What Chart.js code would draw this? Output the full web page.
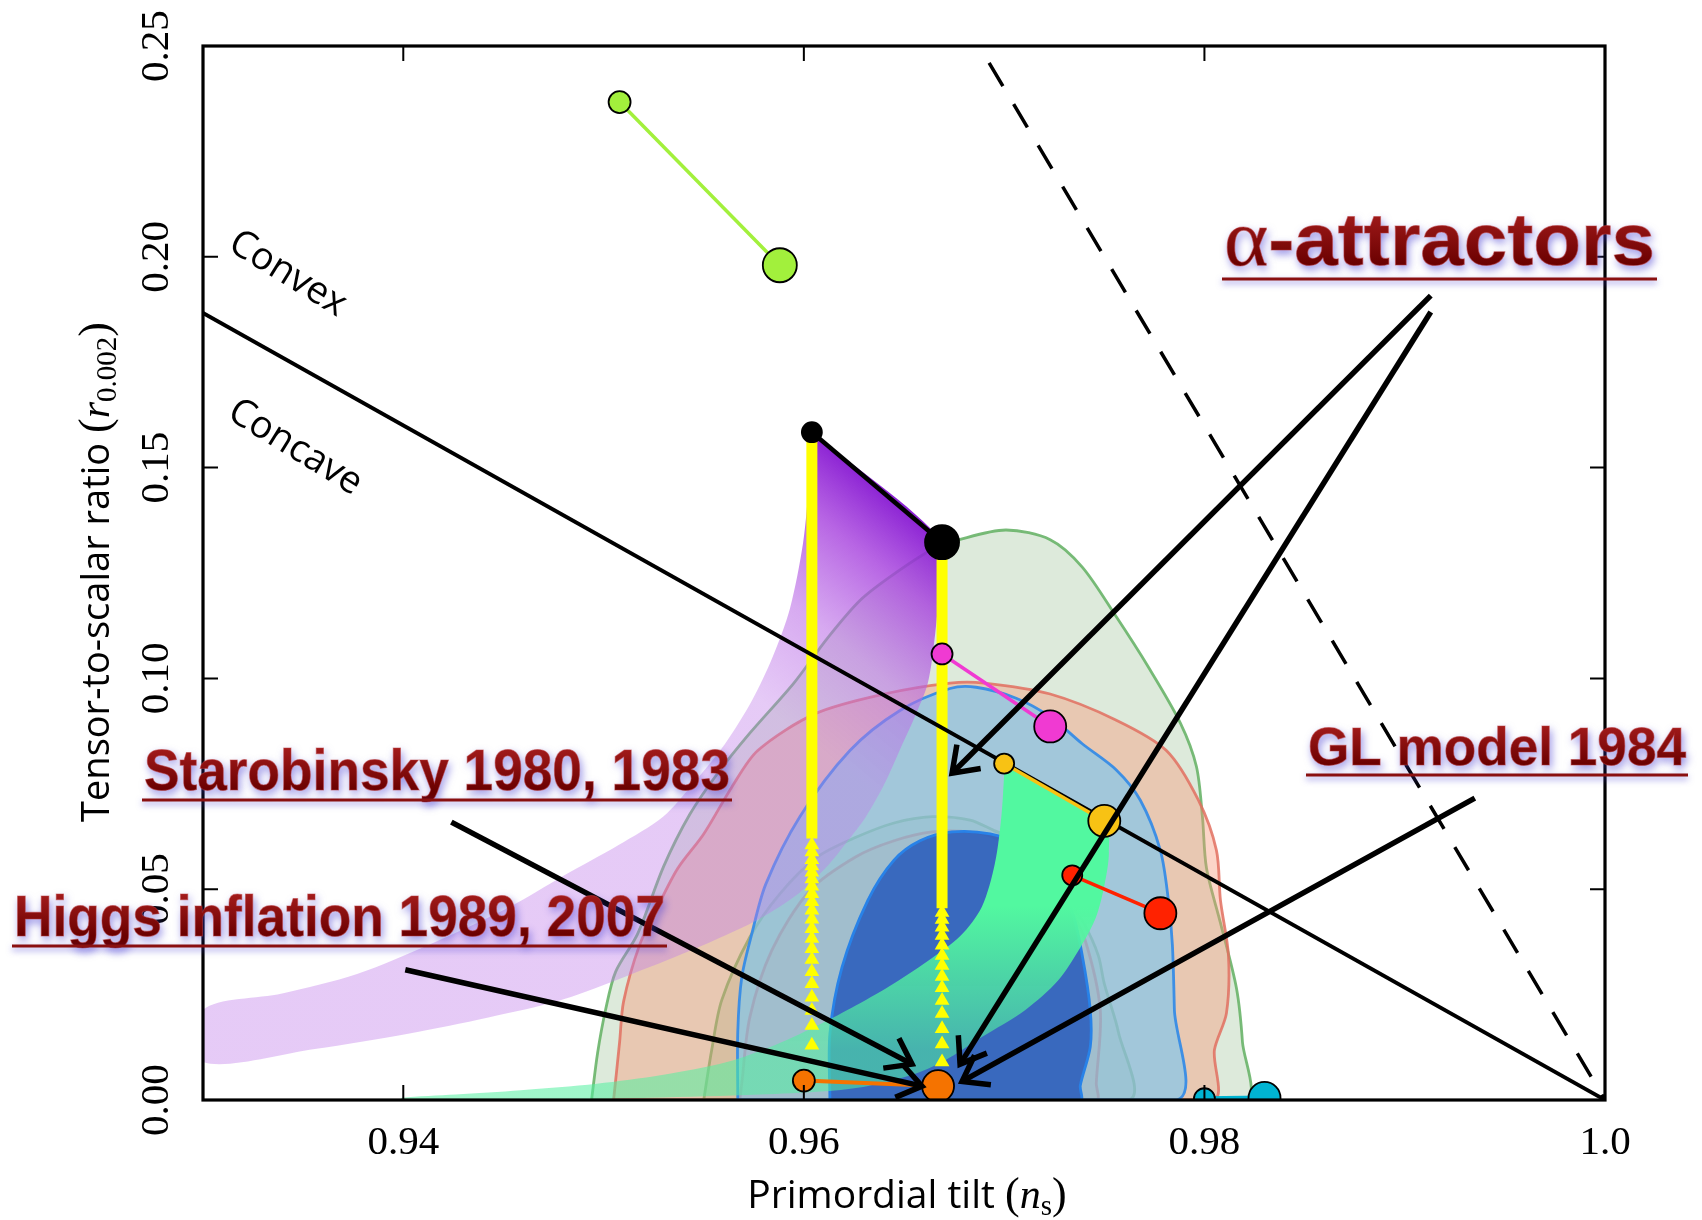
<!DOCTYPE html>
<html>
<head>
<meta charset="utf-8">
<script src="https://cdn.jsdelivr.net/npm/chart.js@4.4.1/dist/chart.umd.min.js"></script>
<style>
  html, body { margin: 0; padding: 0; background: #ffffff; }
  #wrap { width: 1702px; height: 1220px; position: relative; }
</style>
</head>
<body>
<div id="wrap"><canvas id="c" width="1702" height="1220"></canvas></div>
<script>
// ---- axes ----
const xTickValues = [0.94, 0.96, 0.98, 1.0];
const xTickLabels = ['0.94', '0.96', '0.98', '1.0'];
const yTickValues = [0, 0.05, 0.10, 0.15, 0.20, 0.25];
const yTickLabels = ['0.00', '0.05', '0.10', '0.15', '0.20', '0.25'];

// ---- constraint contours (ns, r) ----
const greenOuter = [[0.9494,0],[0.9497,0.0111],[0.9501,0.0214],[0.9506,0.0304],[0.9517,0.0394],[0.9530,0.0554],[0.9543,0.0677],[0.9557,0.0775],[0.9573,0.0870],[0.9595,0.0989],[0.9612,0.1097],[0.9628,0.1185],[0.9643,0.1241],[0.9663,0.1303],[0.9679,0.1331],[0.9701,0.1352],[0.9723,0.1329],[0.9739,0.1264],[0.9756,0.1146],[0.9772,0.1027],[0.9788,0.0894],[0.9796,0.0791],[0.9799,0.0672],[0.9801,0.0551],[0.9808,0.0420],[0.9816,0.0265],[0.9819,0.0137],[0.9820,0]];
const greenInner = [[0.9550,0],[0.9554,0.0119],[0.9559,0.0237],[0.9573,0.0386],[0.9588,0.0489],[0.9607,0.0577],[0.9626,0.0623],[0.9645,0.0657],[0.9664,0.0672],[0.9683,0.0664],[0.9695,0.0639],[0.9708,0.0613],[0.9721,0.0549],[0.9732,0.0471],[0.9740,0.0417],[0.9747,0.0343],[0.9750,0.0276],[0.9757,0.0162],[0.9762,0]];
const redOuter = [[0.9505,0],[0.9508,0.0137],[0.9510,0.0234],[0.9518,0.0368],[0.9527,0.0458],[0.9537,0.0549],[0.9550,0.0631],[0.9564,0.0742],[0.9577,0.0829],[0.9606,0.0917],[0.9640,0.0963],[0.9673,0.0989],[0.9690,0.0989],[0.9723,0.0963],[0.9756,0.0901],[0.9781,0.0829],[0.9797,0.0711],[0.9806,0.0592],[0.9808,0.0474],[0.9812,0.0343],[0.9811,0.0206],[0.9805,0.0119],[0.9804,0]];
const redInner = [[0.9568,0],[0.9569,0.0039],[0.9573,0.0196],[0.9584,0.0355],[0.9603,0.0497],[0.9626,0.0577],[0.9645,0.0615],[0.9664,0.0636],[0.9683,0.0636],[0.9695,0.0623],[0.9713,0.0574],[0.9721,0.0528],[0.9732,0.0458],[0.9740,0.0386],[0.9748,0.0214],[0.9746,0.0039],[0.9746,0]];
const blueOuter = [[0.9567,0],[0.9567,0.0162],[0.9569,0.0291],[0.9574,0.0394],[0.9581,0.0512],[0.9598,0.0672],[0.9623,0.0829],[0.9648,0.0924],[0.9673,0.0976],[0.9686,0.0979],[0.9706,0.0953],[0.9723,0.0909],[0.9739,0.0845],[0.9756,0.0783],[0.9768,0.0711],[0.9778,0.0592],[0.9782,0.0474],[0.9784,0.0368],[0.9785,0.0214],[0.9786,0]];
const blueInner = [[0.9613,0],[0.9613,0.0157],[0.9619,0.0314],[0.9632,0.0474],[0.9645,0.0569],[0.9658,0.0615],[0.9674,0.0636],[0.9693,0.0631],[0.9711,0.0600],[0.9724,0.0536],[0.9734,0.0446],[0.9739,0.0343],[0.9743,0.0214],[0.9743,0.0126],[0.9738,0.0034],[0.9738,0]];

// ---- model bands ----
const naturalBand = [[0.96039,0.15836],[0.96694,0.13236],[0.96678,0.12180],[0.96656,0.11073],[0.96619,0.09888],[0.96554,0.09090],[0.96478,0.08292],[0.96402,0.07493],[0.96310,0.06721],[0.96212,0.06103],[0.96115,0.05536],[0.95979,0.04918],[0.95779,0.04300],[0.95551,0.03785],[0.95237,0.03167],[0.94788,0.02369],[0.94425,0.01957],[0.94024,0.01571],[0.93558,0.01210],[0.93000,0.00901],[0.93000,0.02137],[0.93395,0.02524],[0.93769,0.02987],[0.94154,0.03734],[0.94533,0.04584],[0.94804,0.05330],[0.95075,0.06051],[0.95297,0.06721],[0.95454,0.07545],[0.95606,0.08446],[0.95741,0.09476],[0.95844,0.10506],[0.95931,0.11665],[0.95996,0.13210],[0.96023,0.14497]];
const mintBand = [[0.97003,0.07983],[0.96987,0.06772],[0.96954,0.05614],[0.96889,0.04584],[0.96781,0.03888],[0.96619,0.03296],[0.96429,0.02704],[0.96239,0.02189],[0.96050,0.01725],[0.95860,0.01313],[0.95616,0.00901],[0.95291,0.00592],[0.94966,0.00386],[0.94587,0.00232],[0.94262,0.00129],[0.93991,0.00052],[0.93991,0],[0.94479,0],[0.95237,0.00052],[0.95779,0.00129],[0.96104,0.00206],[0.96321,0.00335],[0.96537,0.00592],[0.96700,0.00927],[0.96889,0.01494],[0.97106,0.02137],[0.97269,0.02833],[0.97382,0.03631],[0.97458,0.04326],[0.97501,0.05099],[0.97523,0.05871],[0.97501,0.06618]];

// ---- model predictions, [N = 50, N = 60] ----
const phiCubed   = [[0.9508,0.2367],[0.9588,0.1980]];
const phiSquared = [[0.9604,0.1584],[0.9669,0.1323]];
const phiFourThirds = [[0.9669,0.1058],[0.9723,0.0886]];
const phiLinear  = [[0.9700,0.0798],[0.9750,0.0662]];
const phiTwoThirds = [[0.9734,0.0533],[0.9778,0.0443]];
const lowScale   = [[0.9800,0.0003],[0.9830,0.0005]];
const starobinsky = [[0.9600,0.0046],[0.9667,0.0033]];

// yellow tracks below the phi^2 points (solid part, then individual markers)
const trackN50Solid = [0.1584, 0.0620];
const trackN50Marks = [0.0605,0.0588,0.0570,0.0555,0.0540,0.0524,0.0507,0.0489,0.0470,0.0450,0.0429,0.0406,0.0383,0.0359,0.0333,0.0304,0.0276,0.0244,0.0212,0.0177,0.0130];
const trackN60Solid = [0.1323, 0.0455];
const trackN60Marks = [0.0445,0.0428,0.0410,0.0390,0.0367,0.0343,0.0319,0.0293,0.0266,0.0236,0.0205,0.0169,0.0133,0.0090];

// ---- reference lines ----
const convexBoundary = [[0.93,0.18667],[1.0,0]];
const dashedBoundary = [[0.96925,0.246],[1.0,0]];

// ---- annotation arrows (tail, head) ----
const arrowAlphaA = [[0.9913,0.1908],[0.9674,0.0775]];
const arrowAlphaB = [[0.9913,0.1869],[0.9678,0.0085]];
const arrowStaro  = [[0.9424,0.0659],[0.9654,0.0085]];
const arrowHiggs  = [[0.9401,0.0309],[0.9659,0.0033]];
const arrowGL     = [[0.9935,0.0716],[0.9679,0.0044]];

const convexLabelAt = [0.93423, 0.19596];
const concaveLabelAt = [0.93460, 0.15476];

// ---------------------------------------------------------------
const P = a => a.map(([x, y]) => ({x, y}));
const ring = a => P(a.concat([a[0]]));

function region(data, bg, border, order, width) {
  return { data: ring(data), fill: 'shape', backgroundColor: bg, borderColor: border,
           borderWidth: width === undefined ? 2.8 : width, pointRadius: 0, tension: 0.3, order, clip: 0 };
}

function purpleFill(c) {
  const ch = c.chart;
  if (!ch.chartArea) return 'rgba(190,120,232,0.4)';
  const sx = ch.scales.x, sy = ch.scales.y;
  const g = ch.ctx.createLinearGradient(sx.getPixelForValue(0.9636), sy.getPixelForValue(0.1455),
                                        sx.getPixelForValue(0.9560), sy.getPixelForValue(0.1020));
  g.addColorStop(0, 'rgba(135,25,210,0.95)');
  g.addColorStop(0.25, 'rgba(168,68,222,0.82)');
  g.addColorStop(0.6, 'rgba(186,108,230,0.58)');
  g.addColorStop(1, 'rgba(192,124,234,0.4)');
  return g;
}

function mintFill(c) {
  const ch = c.chart;
  if (!ch.chartArea) return 'rgba(80,246,160,0.8)';
  const sy = ch.scales.y;
  const g = ch.ctx.createLinearGradient(0, sy.getPixelForValue(0.046), 0, sy.getPixelForValue(0.012));
  g.addColorStop(0, 'rgba(82,248,160,1)');
  g.addColorStop(1, 'rgba(82,240,160,0.55)');
  return g;
}

function model(data, color, order, lineWidth, radii) {
  return { data: P(data), borderColor: color, borderWidth: lineWidth || 3.5,
           pointRadius: radii || [10.5, 17], pointBackgroundColor: color, pointBorderColor: '#000',
           pointBorderWidth: 1.8, fill: false, order, clip: 0 };
}

function arrow(data) {
  return { data: P(data), borderColor: '#000', borderWidth: 5.5, pointRadius: 0, fill: false,
           order: 2, clip: false, borderCapStyle: 'butt', isArrow: true };
}

const nsN50 = phiSquared[0][0], nsN60 = phiSquared[1][0];

const datasets = [
  region(greenOuter, 'rgba(120,172,112,0.25)', 'rgba(105,180,105,0.9)', 90),
  region(greenInner, 'rgba(120,172,112,0.25)', 'rgba(105,180,105,0.9)', 89),
  region(redOuter, 'rgba(248,150,118,0.40)', 'rgba(226,112,96,0.85)', 88),
  region(redInner, 'rgba(248,150,118,0.40)', 'rgba(226,112,96,0.85)', 87),
  region(blueOuter, 'rgba(120,198,242,0.62)', 'rgba(55,140,230,0.95)', 86),
  region(blueInner, 'rgba(45,95,188,0.9)', 'rgba(40,130,232,1)', 85),
  region(naturalBand, purpleFill, 'rgba(0,0,0,0)', 80, 0),
  region(mintBand, mintFill, 'rgba(0,0,0,0)', 79, 0),
  { data: P(dashedBoundary), borderColor: '#000', borderWidth: 3.5, borderDash: [27, 21],
    pointRadius: 0, fill: false, order: 70, clip: 0 },
  { data: P([[nsN50, trackN50Solid[0]], [nsN50, trackN50Solid[1]]]), borderColor: '#ffff00', borderWidth: 11,
    pointRadius: 0, fill: false, order: 60, clip: 0, borderCapStyle: 'butt' },
  { data: trackN50Marks.map(r => ({x: nsN50, y: r})), showLine: false, pointStyle: 'triangle',
    pointRadius: 8.5, pointBackgroundColor: '#ffff00', pointBorderColor: '#ffff00', pointBorderWidth: 0, order: 60, clip: 0 },
  { data: P([[nsN60, trackN60Solid[0]], [nsN60, trackN60Solid[1]]]), borderColor: '#ffff00', borderWidth: 11,
    pointRadius: 0, fill: false, order: 60, clip: 0, borderCapStyle: 'butt' },
  { data: trackN60Marks.map(r => ({x: nsN60, y: r})), showLine: false, pointStyle: 'triangle',
    pointRadius: 8.5, pointBackgroundColor: '#ffff00', pointBorderColor: '#ffff00', pointBorderWidth: 0, order: 60, clip: 0 },
  { data: P(convexBoundary), borderColor: '#000', borderWidth: 3.8, pointRadius: 0, fill: false, order: 55, clip: 0 },
  model(phiCubed, '#a2f03c', 30, 3.5, [11, 17]),
  model(phiSquared, '#000000', 30, 4.5, [10, 17]),
  model(phiFourThirds, '#f03ad2', 30, 3.5, [10.5, 16]),
  model(phiLinear, '#f8c214', 30, 3.5, [10, 16]),
  model(phiTwoThirds, '#ff2200', 30, 3.5, [10, 16]),
  model(lowScale, '#00b4d2', 30, 5, [10.5, 16]),
  model(starobinsky, '#f57300', 30, 4, [11, 16]),
  arrow(arrowAlphaA),
  arrow(arrowAlphaB),
  arrow(arrowStaro),
  arrow(arrowHiggs),
  arrow(arrowGL)
];

// ---------------------------------------------------------------
const SERIF = '"Liberation Serif", "DejaVu Serif", serif';
const SANS = '"Open Sans", "DejaVu Sans", sans-serif';
const BOLD = '"Liberation Sans", Arial, sans-serif';

function drawRuns(ctx, runs, cx, baseline) {
  let w = 0;
  runs.forEach(r => { ctx.font = r.font; r.w = ctx.measureText(r.t).width; w += r.w; });
  let x = cx - w / 2;
  runs.forEach(r => { ctx.font = r.font; ctx.fillText(r.t, x, baseline + (r.dy || 0)); x += r.w; });
}

// Inward ticks, frame, tick labels and axis titles
const framePlugin = {
  id: 'frame',
  afterDatasetsDraw(chart) {
    const {ctx, chartArea: a, scales: {x, y}} = chart;
    ctx.save();
    ctx.strokeStyle = '#000';
    ctx.lineWidth = 2;
    ctx.beginPath();
    xTickValues.forEach(v => {
      const px = x.getPixelForValue(v);
      ctx.moveTo(px, a.bottom); ctx.lineTo(px, a.bottom - 15);
      ctx.moveTo(px, a.top); ctx.lineTo(px, a.top + 15);
    });
    yTickValues.forEach(v => {
      const py = y.getPixelForValue(v);
      ctx.moveTo(a.left, py); ctx.lineTo(a.left + 15, py);
      ctx.moveTo(a.right, py); ctx.lineTo(a.right - 15, py);
    });
    ctx.stroke();
    ctx.lineWidth = 3.2;
    ctx.strokeRect(a.left, a.top, a.right - a.left, a.bottom - a.top);

    // arrowheads
    chart.data.datasets.forEach((ds, i) => {
      if (!ds.isArrow) return;
      const pts = chart.getDatasetMeta(i).data;
      const p0 = pts[0], p1 = pts[pts.length - 1];
      const ang = Math.atan2(p1.y - p0.y, p1.x - p0.x);
      const L = 29, spread = 0.62;
      ctx.lineWidth = 5.5;
      ctx.lineJoin = 'miter';
      ctx.lineCap = 'butt';
      ctx.beginPath();
      ctx.moveTo(p1.x - L * Math.cos(ang - spread), p1.y - L * Math.sin(ang - spread));
      ctx.lineTo(p1.x, p1.y);
      ctx.lineTo(p1.x - L * Math.cos(ang + spread), p1.y - L * Math.sin(ang + spread));
      ctx.stroke();
    });

    // tick labels
    ctx.fillStyle = '#000';
    ctx.font = '41px ' + SERIF;
    ctx.textAlign = 'center';
    ctx.textBaseline = 'middle';
    xTickValues.forEach((v, i) => ctx.fillText(xTickLabels[i], x.getPixelForValue(v), 1143));
    yTickValues.forEach((v, i) => {
      ctx.save();
      ctx.translate(157, y.getPixelForValue(v));
      ctx.rotate(-Math.PI / 2);
      ctx.fillText(yTickLabels[i], 0, 0);
      ctx.restore();
    });

    // axis titles
    ctx.textAlign = 'left';
    ctx.textBaseline = 'alphabetic';
    drawRuns(ctx, [
      {t: 'Primordial tilt ', font: '39px ' + SANS},
      {t: '(', font: '44px ' + SERIF},
      {t: 'n', font: 'italic 42px ' + SERIF},
      {t: 's', font: '29px ' + SERIF, dy: 7},
      {t: ')', font: '44px ' + SERIF}
    ], 907, 1208);
    ctx.save();
    ctx.translate(109, 572);
    ctx.rotate(-Math.PI / 2);
    drawRuns(ctx, [
      {t: 'Tensor-to-scalar ratio ', font: '38px ' + SANS},
      {t: '(', font: '44px ' + SERIF},
      {t: 'r', font: 'italic 42px ' + SERIF},
      {t: '0.002', font: '29px ' + SERIF, dy: 7},
      {t: ')', font: '44px ' + SERIF}
    ], 0, 0);
    ctx.restore();

    // Convex / Concave along the boundary line
    const q0 = {x: x.getPixelForValue(convexBoundary[0][0]), y: y.getPixelForValue(convexBoundary[0][1])};
    const q1 = {x: x.getPixelForValue(convexBoundary[1][0]), y: y.getPixelForValue(convexBoundary[1][1])};
    const rot = Math.atan2(q1.y - q0.y, q1.x - q0.x) + 0.04;
    ctx.font = '38px ' + SANS;
    ctx.textAlign = 'center';
    ctx.textBaseline = 'middle';
    [[convexLabelAt, 'Convex'], [concaveLabelAt, 'Concave']].forEach(([at, t]) => {
      ctx.save();
      ctx.translate(x.getPixelForValue(at[0]), y.getPixelForValue(at[1]));
      ctx.rotate(rot);
      ctx.fillText(t, 0, 0);
      ctx.restore();
    });
    ctx.restore();
  }
};

// Model-name callouts
const callouts = [
  {runs: [['α', 'normal', SERIF, 1.08], ['-attractors', 'bold', BOLD, 1]], size: 74, left: 1224, right: 1655, baseline: 265, underline: 279},
  {runs: [['Starobinsky 1980, 1983', 'bold', BOLD, 1]], size: 57, left: 144, right: 730, baseline: 790, underline: 800},
  {runs: [['Higgs inflation 1989, 2007', 'bold', BOLD, 1]], size: 57, left: 14, right: 665, baseline: 936, underline: 946},
  {runs: [['GL model 1984', 'bold', BOLD, 1]], size: 54, left: 1308, right: 1686, baseline: 765, underline: 775}
];

const calloutPlugin = {
  id: 'callouts',
  afterDraw(chart) {
    const ctx = chart.ctx;
    callouts.forEach(c => {
      ctx.save();
      let w = 0;
      const parts = c.runs.map(([t, weight, fam, k]) => {
        const font = weight + ' ' + Math.round(c.size * k) + 'px ' + fam;
        ctx.font = font;
        const pw = ctx.measureText(t).width;
        w += pw;
        return {t, font, pw};
      });
      const sx = (c.right - c.left) / w;
      ctx.translate(c.left, c.baseline);
      ctx.scale(sx, 1);
      const grad = ctx.createLinearGradient(0, -c.size * 0.75, 0, 0);
      grad.addColorStop(0, '#a41c1c');
      grad.addColorStop(1, '#6a0000');
      ctx.shadowColor = 'rgba(70,60,210,0.6)';
      ctx.shadowBlur = 9;
      ctx.shadowOffsetX = 2;
      ctx.shadowOffsetY = 4;
      ctx.fillStyle = grad;
      ctx.textBaseline = 'alphabetic';
      let xx = 0;
      parts.forEach(p => { ctx.font = p.font; ctx.fillText(p.t, xx, 0); xx += p.pw; });
      ctx.shadowColor = 'rgba(0,0,0,0)';
      ctx.lineWidth = 1;
      ctx.strokeStyle = 'rgba(190,60,60,0.5)';
      xx = 0;
      parts.forEach(p => { ctx.font = p.font; ctx.strokeText(p.t, xx, 0); xx += p.pw; });
      ctx.restore();
      ctx.save();
      ctx.shadowColor = 'rgba(70,60,210,0.55)';
      ctx.shadowBlur = 6;
      ctx.shadowOffsetY = 3;
      ctx.fillStyle = '#8a1010';
      ctx.fillRect(c.left - 2, c.underline - 1.5, c.right - c.left + 4, 3);
      ctx.restore();
    });
  }
};

new Chart(document.getElementById('c'), {
  type: 'line',
  data: { datasets },
  options: {
    responsive: false,
    animation: false,
    devicePixelRatio: 1,
    events: [],
    layout: { padding: { top: 46, right: 97, left: 0, bottom: 0 } },
    plugins: { legend: { display: false }, tooltip: { enabled: false } },
    scales: {
      x: {
        type: 'linear', min: 0.93, max: 1.0,
        grid: { display: false }, border: { display: false }, ticks: { display: false },
        afterBuildTicks: s => { s.ticks = xTickValues.map(v => ({value: v})); },
        afterFit: s => { s.height = 120; }
      },
      y: {
        type: 'linear', min: 0, max: 0.25,
        grid: { display: false }, border: { display: false }, ticks: { display: false },
        afterBuildTicks: s => { s.ticks = yTickValues.map(v => ({value: v})); },
        afterFit: s => { s.width = 203; }
      }
    }
  },
  plugins: [framePlugin, calloutPlugin]
});
</script>
</body>
</html>
